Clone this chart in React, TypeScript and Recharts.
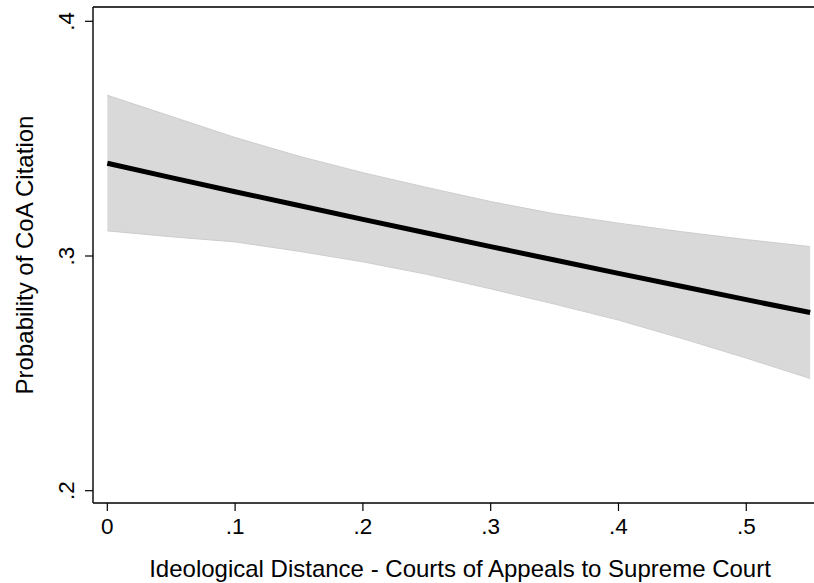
import React from "react";
import {
  ComposedChart,
  Area,
  Line,
  XAxis,
  YAxis,
  ReferenceLine,
  Label,
} from "recharts";

// Ideological distance (x) at which predictions were made
const distance = [0, 0.05, 0.1, 0.15, 0.2, 0.25, 0.3, 0.35, 0.4, 0.45, 0.5, 0.55];
// Predicted probability of a Courts of Appeals citation
const probability = [0.3395, 0.3334, 0.3274, 0.3215, 0.3156, 0.3098, 0.304, 0.2983, 0.2926, 0.287, 0.2814, 0.2759];
// 95% confidence bounds
const ciLower = [0.3107, 0.3082, 0.306, 0.302, 0.2975, 0.2922, 0.286, 0.2795, 0.2727, 0.2648, 0.2565, 0.2478];
const ciUpper = [0.3685, 0.3595, 0.3505, 0.3425, 0.3355, 0.3292, 0.3232, 0.318, 0.314, 0.3103, 0.307, 0.304];

const xTicks = [0, 0.1, 0.2, 0.3, 0.4, 0.5];
const yTicks = [0.2, 0.3, 0.4];

const X_TITLE = "Ideological Distance - Courts of Appeals to Supreme Court";
const Y_TITLE = "Probability of CoA Citation";

const data = distance.map((d, i) => ({
  x: d,
  p: probability[i],
  band: [ciLower[i], ciUpper[i]],
}));

const FONT = "'Liberation Sans', Arial, Helvetica, sans-serif";
const TICK_FS = 22.5;
const TITLE_FS = 24;

// Stata-style numeric labels: leading zero dropped
const fmt = (v: number) => (v === 0 ? "0" : String(Number(v.toFixed(2))).replace(/^0/, ""));

const XTick = (props: any) => {
  const { x, payload } = props;
  return (
    <text x={x} y={534} textAnchor="middle" fontSize={TICK_FS} fontFamily={FONT} fill="#000">
      {fmt(payload.value)}
    </text>
  );
};

const YTick = (props: any) => {
  const { y, payload } = props;
  const bx = 74;
  return (
    <text
      x={bx}
      y={y}
      transform={`rotate(-90 ${bx} ${y})`}
      textAnchor="middle"
      fontSize={TICK_FS}
      fontFamily={FONT}
      fill="#000"
    >
      {fmt(payload.value)}
    </text>
  );
};

const Y_TOP = 0.40609;
const Y_BOTTOM = 0.19476;

export default function App() {
  return (
    <div style={{ position: "absolute", left: 0, top: 0, background: "#fff" }}>
      <ComposedChart
        width={814}
        height={583}
        data={data}
        margin={{ top: 7, right: 0, bottom: 0, left: 0 }}
      >
        <XAxis
          dataKey="x"
          type="number"
          domain={[-0.0112, 0.553]}
          ticks={xTicks}
          allowDataOverflow
          height={80}
          tickSize={8}
          tick={<XTick />}
          axisLine={{ stroke: "#000", strokeWidth: 1.4 }}
          tickLine={{ stroke: "#000", strokeWidth: 1.2 }}
        >
          <Label
            content={() => (
              <text x={460} y={577} textAnchor="middle" fontSize={TITLE_FS} fontFamily={FONT} fill="#000">
                {X_TITLE}
              </text>
            )}
          />
        </XAxis>
        <YAxis
          type="number"
          domain={[Y_BOTTOM, Y_TOP]}
          ticks={yTicks}
          allowDataOverflow
          width={93}
          tickSize={8}
          tick={<YTick />}
          axisLine={{ stroke: "#000", strokeWidth: 1.4 }}
          tickLine={{ stroke: "#000", strokeWidth: 1.2 }}
        >
          <Label
            content={() => (
              <text
                x={33}
                y={255}
                transform="rotate(-90 33 255)"
                textAnchor="middle"
                fontSize={TITLE_FS}
                fontFamily={FONT}
                fill="#000"
              >
                {Y_TITLE}
              </text>
            )}
          />
        </YAxis>
        <ReferenceLine y={Y_TOP} stroke="#3a3a3a" strokeWidth={2} ifOverflow="visible" />
        <Area
          dataKey="band"
          type="linear"
          fill="#d9d9d9"
          fillOpacity={1}
          stroke="#cdcdcd"
          strokeWidth={1}
          isAnimationActive={false}
        />
        <Line
          dataKey="p"
          type="linear"
          stroke="#000"
          strokeWidth={5}
          dot={false}
          isAnimationActive={false}
        />
      </ComposedChart>
    </div>
  );
}
